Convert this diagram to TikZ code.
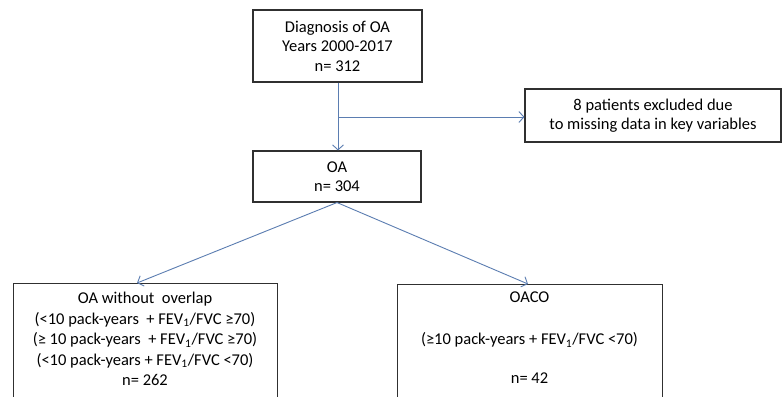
\documentclass[tikz,border=0pt]{standalone}
\usepackage{fontspec}
\setmainfont{Carlito}
\usetikzlibrary{arrows.meta}
\definecolor{arrowblue}{HTML}{5B7DB1}
\definecolor{boxline}{HTML}{303030}
\tikzset{
  box/.style={draw=boxline, line width=1.1pt, rectangle, inner sep=0pt, align=center,
    font=\fontsize{16.5}{19.5}\selectfont},
  txt/.style={inner sep=0pt, align=center, font=\fontsize{16.5}{20.5}\selectfont},
  arr/.style={draw=arrowblue, line width=0.9pt, -{Straight Barb[length=5pt, width=11pt, line width=0.9pt]}},
  lin/.style={draw=arrowblue, line width=0.9pt}
}
\begin{document}
\begin{tikzpicture}[x=1pt, y=-1pt]
\useasboundingbox (0,0) rectangle (783,396);
\clip (0,0) rectangle (783,396);
\fill[white] (0,0) rectangle (783,396);
\node[box, minimum width=169pt, minimum height=72pt] (diag) at (337.5,46) {Diagnosis of OA\\Years 2000-2017\\n= 312};
\node[box, minimum width=256pt, minimum height=53pt] (excl) at (653,115.5) {8 patients excluded due\\to missing data in key variables};
\node[box, minimum width=168pt, minimum height=51pt] (oa) at (337,176.5) {OA\\n= 304};
\node[box, minimum width=264pt, minimum height=140pt, anchor=north west] (left) at (13,283) {};
\node[box, minimum width=265pt, minimum height=140pt, anchor=north west] (right) at (397,284) {};
\node[txt, anchor=north] (lefttxt) at (145,292) {OA without\ \ overlap\\(<10 pack-years\ \ + FEV\textsubscript{1}/FVC ≥70)\\(≥ 10 pack-years\ \ + FEV\textsubscript{1}/FVC ≥70)\\(<10 pack-years + FEV\textsubscript{1}/FVC <70)\\n= 262};
\node[txt, anchor=north] (righttxt) at (529.5,292) {OACO\\[21pt](≥10 pack-years + FEV\textsubscript{1}/FVC <70)\\[19pt]n= 42};
\coordinate (split) at (338,117);
\draw[lin] (diag.south -| split) -- (split);
\draw[arr] (split) -- (oa.north -| split);
\draw[arr] (split) -- (split -| excl.west);
\draw[arr] (oa.south) -- ([xshift=124pt]left.north west);
\draw[arr] (oa.south) -- ([xshift=131pt]right.north west);
\end{tikzpicture}
\end{document}
